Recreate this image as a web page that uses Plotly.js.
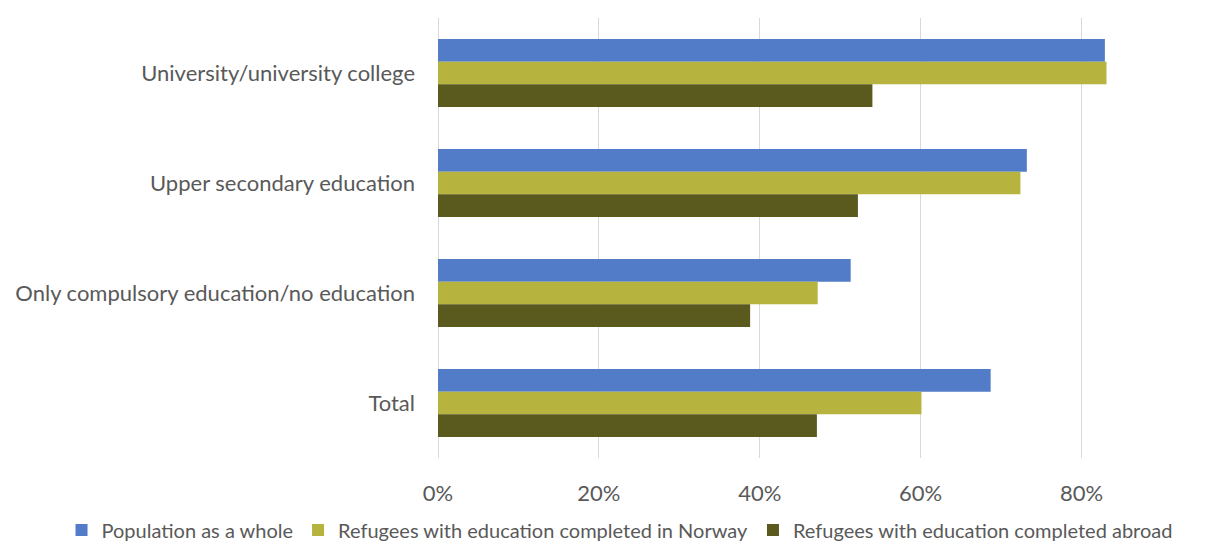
<!DOCTYPE html>
<html>
<head>
<meta charset="utf-8">
<script src="https://cdn.plot.ly/plotly-3.0.1.min.js"></script>
<style>html,body{margin:0;padding:0;background:#fff;}#chart{width:1205px;height:545px;}</style>
</head>
<body>
<div id="chart"></div>
<script>
const categories = ['University/university college', 'Upper secondary education', 'Only compulsory education/no education', 'Total'];
const seriesNames = ['Population as a whole', 'Refugees with education completed in Norway', 'Refugees with education completed abroad'];
const populationWhole = [0.829, 0.732, 0.513, 0.687];
const refugeesNorway = [0.831, 0.724, 0.472, 0.601];
const refugeesAbroad = [0.540, 0.522, 0.388, 0.471];
const xTickVals = [0, 0.2, 0.4, 0.6, 0.8];
const xTickText = ['0%', '20%', '40%', '60%', '80%'];

const colors = ['#527BC8', '#B6B43E', '#5A5A1E'];
const values = [populationWhole, refugeesNorway, refugeesAbroad];
const font = "Lato, Open Sans, sans-serif";

const traces = values.map((v, i) => ({
  type: 'bar',
  orientation: 'h',
  name: seriesNames[i],
  y: categories,
  x: v,
  marker: {color: colors[i], line: {width: 0}},
  hoverinfo: 'x+y'
}));

const layout = {
  width: 1205, height: 545,
  margin: {l: 438, r: 43, t: 18, b: 87, autoexpand: false},
  paper_bgcolor: '#fff', plot_bgcolor: '#fff',
  barmode: 'group',
  bargap: 0.38,
  bargroupgap: 0,
  font: {family: font, color: '#595959', size: 22},
  xaxis: {
    range: [0, 0.9],
    tickvals: xTickVals,
    ticktext: xTickText,
    showgrid: true, gridcolor: '#D9D9D9', gridwidth: 1,
    zeroline: true, zerolinecolor: '#D9D9D9', zerolinewidth: 1,
    showline: false, ticks: '',
    ticklabelstandoff: 20,
    tickfont: {size: 22, color: '#595959'}
  },
  yaxis: {
    autorange: 'reversed',
    showgrid: false, zeroline: false, showline: false, ticks: '',
    ticklabelstandoff: 22,
    tickfont: {size: 22, color: '#595959'}
  },
  showlegend: true,
  legend: {
    orientation: 'h',
    xref: 'paper', yref: 'paper',
    x: -0.52, xanchor: 'left',
    y: -0.1636, yanchor: 'middle',
    bgcolor: 'rgba(0,0,0,0)',
    font: {size: 20, color: '#595959'},
    itemwidth: 30,
    tracegroupgap: 0
  }
};

Plotly.newPlot('chart', traces, layout, {displayModeBar: false, staticPlot: true});
</script>
</body>
</html>
